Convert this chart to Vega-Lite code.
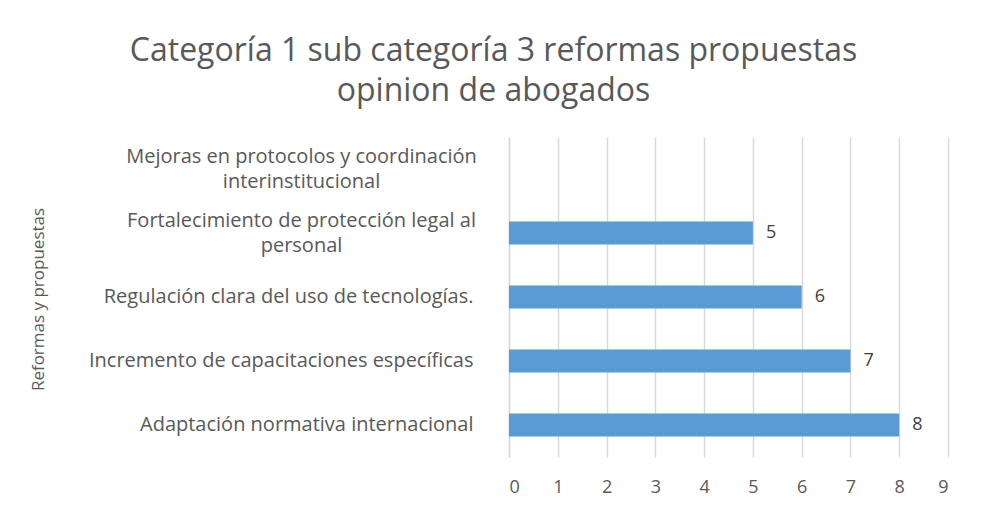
{
  "$schema": "https://vega.github.io/schema/vega-lite/v6.json",
  "autosize": {"type": "none"},
  "width": 439,
  "height": 320,
  "padding": {"left": 509, "top": 137, "right": 35, "bottom": 52},
  "background": "white",
  "config": {
    "font": "Open Sans",
    "view": {"stroke": null}
  },
  "title": {
    "text": ["Categoría 1 sub categoría 3  reformas propuestas", "opinion de abogados"],
    "font": "Open Sans",
    "fontSize": 32,
    "fontWeight": "normal",
    "color": "#595959",
    "anchor": "middle",
    "frame": "group",
    "dx": -235,
    "offset": 29,
    "lineHeight": 40
  },
  "data": {
    "values": [
      {"propuesta": "Mejoras en protocolos y coordinación|interinstitucional", "valor": null},
      {"propuesta": "Fortalecimiento de protección legal al|personal", "valor": 5},
      {"propuesta": "Regulación clara del uso de tecnologías.", "valor": 6},
      {"propuesta": "Incremento de capacitaciones específicas", "valor": 7},
      {"propuesta": "Adaptación normativa internacional", "valor": 8}
    ]
  },
  "encoding": {
    "y": {
      "field": "propuesta",
      "type": "nominal",
      "sort": null,
      "scale": {
        "domain": [
          "Mejoras en protocolos y coordinación|interinstitucional",
          "Fortalecimiento de protección legal al|personal",
          "Regulación clara del uso de tecnologías.",
          "Incremento de capacitaciones específicas",
          "Adaptación normativa internacional"
        ],
        "paddingInner": 0.64,
        "paddingOuter": 0.32
      },
      "axis": {
        "title": "Reformas y propuestas",
        "titleFont": "Open Sans",
        "titleFontSize": 17,
        "titleFontWeight": "normal",
        "titleColor": "#595959",
        "titleX": -471,
        "titleY": 162,
        "titleAngle": -90,
        "titleAlign": "center",
        "titleBaseline": "middle",
        "labelExpr": "split(datum.label, '|')",
        "labelAlign": {"condition": {"test": "indexof(datum.value, '|') >= 0", "value": "center"}, "value": "right"},
        "labelPadding": {"condition": {"test": "indexof(datum.value, '|') >= 0", "value": 208}, "value": 36},
        "labelOffset": {"condition": {"test": "indexof(datum.value, '|') >= 0", "value": -12}, "value": 0},
        "labelBaseline": "middle",
        "labelLimit": 600,
        "labelFontSize": 20,
        "labelColor": "#595959",
        "labelLineHeight": 25,
        "ticks": false,
        "domainColor": "#d9d9d9",
        "domainWidth": 1.5
      }
    },
    "x": {
      "field": "valor",
      "type": "quantitative",
      "scale": {"domain": [0, 9], "nice": false},
      "axis": {
        "title": null,
        "values": [0, 1, 2, 3, 4, 5, 6, 7, 8, 9],
        "domain": false,
        "ticks": false,
        "grid": true,
        "gridColor": "#d9d9d9",
        "gridWidth": 1.5,
        "labelFontSize": 18,
        "labelColor": "#595959",
        "labelPadding": 21
      }
    }
  },
  "layer": [
    {"mark": {"type": "bar", "color": "#5b9bd5"}},
    {
      "mark": {"type": "text", "align": "left", "dx": 13, "fontSize": 18, "color": "#404040", "baseline": "middle"},
      "encoding": {"text": {"field": "valor", "type": "quantitative"}}
    }
  ]
}
